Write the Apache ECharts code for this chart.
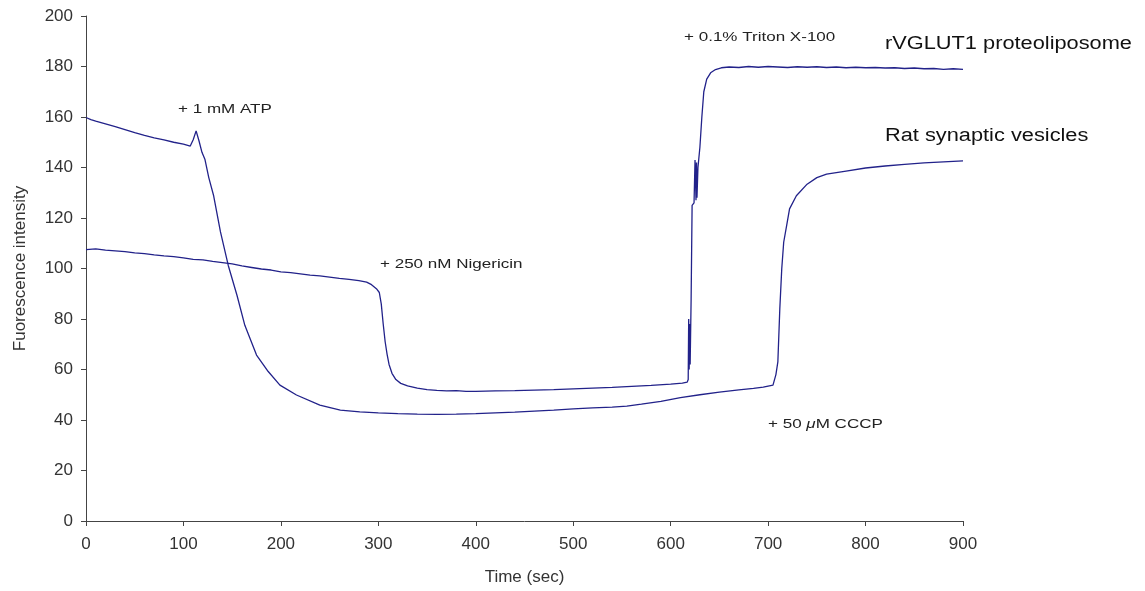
<!DOCTYPE html>
<html>
<head>
<meta charset="utf-8">
<script src="https://cdn.jsdelivr.net/npm/echarts@6/dist/echarts.min.js"></script>
<style>
html,body{margin:0;padding:0;background:#fff;}
#chart{width:1145px;height:591px;}
</style>
</head>
<body>
<div id="chart"></div>
<script>
// ---- Data ----
const xTicks = [0, 100, 200, 300, 400, 500, 600, 700, 800, 900];
const yTicks = [0, 20, 40, 60, 80, 100, 120, 140, 160, 180, 200];

// rVGLUT1 proteoliposome (Nigericin drop, Triton X-100 release)
const lipoTime = [0,10,20,30,40,50,60,70,80,90,100,110,120,130,140,150,160,170,180,190,200,210,220,230,240,250,260,270,280,288,293,298,301,303,305,307,309,311,314,318,323,330,340,350,360,370,380,390,400,420,440,460,480,500,520,540,560,580,600,612,617,618,618.5,619,619.5,620,621,622,624,625,626,626.5,627,628,630,632,634,637,641,646,652,660,670,680,690,700,710,720,730,740,750,760,770,780,790,800,810,820,830,840,850,860,870,880,890,900];
const lipoValue = [107.5,107.8,107.3,107.0,106.7,106.2,105.9,105.4,105.0,104.7,104.2,103.6,103.4,102.8,102.3,101.8,101.0,100.4,99.8,99.4,98.7,98.4,97.9,97.4,97.1,96.6,96.1,95.7,95.2,94.6,93.6,92.0,90.5,86,78,71,66,62,58.5,56,54.5,53.5,52.6,52.0,51.7,51.5,51.6,51.3,51.3,51.5,51.6,51.8,52.0,52.3,52.6,52.9,53.3,53.7,54.2,54.6,55.0,56,80,60,78,62,88,125,126,143,127,142,128,140,148,160,170,175,177.5,178.8,179.5,179.8,179.6,180.0,179.7,180.0,179.8,179.6,179.9,179.7,179.9,179.6,179.8,179.5,179.7,179.5,179.6,179.4,179.5,179.2,179.4,179.1,179.2,178.9,179.1,178.9];

// Rat synaptic vesicles (ATP acidification, CCCP release)
const vesTime = [0,5,10,20,30,40,50,60,70,80,90,100,107,110,113,116,119,122,126,131,138,146,155,163,175,187,199,216,240,261,281,300,320,340,360,380,400,420,440,460,480,500,520,540,555,570,590,610,630,650,670,685,695,705,708,710,712,714,716,719,722,729,740,750,760,780,800,820,840,860,880,900];
const vesValue = [159.8,159.0,158.4,157.3,156.2,155.0,153.8,152.7,151.7,150.9,150.0,149.3,148.5,151,154.5,150.5,146,143.3,136,128.8,114.5,101.2,89.3,77.5,65.7,59.2,53.8,49.9,45.9,43.9,43.2,42.8,42.5,42.3,42.2,42.3,42.5,42.8,43.1,43.5,43.9,44.4,44.8,45.1,45.5,46.3,47.4,48.9,50.0,51.0,51.9,52.5,53.0,53.8,58,63,84,99.9,110.4,117,123.6,128.8,133.4,136,137.4,138.6,139.8,140.6,141.2,141.8,142.2,142.6];

const seriesNames = ['rVGLUT1 proteoliposome', 'Rat synaptic vesicles'];
const xAxisTitle = 'Time (sec)';
const yAxisTitle = 'Fuorescence intensity';
const annotations = ['+ 1 mM ATP', '+ 250 nM Nigericin', '+ 0.1% Triton X-100', '+ 50 {i|\u03bc}M CCCP'];

// ---- Chart ----
const pair = (t, v) => t.map((x, i) => [x, v[i]]);
const FONT = '"Liberation Sans", Arial, sans-serif';
const lineColor = '#22228a';

function note(text, x, y, size, scale, color) {
  return {
    type: 'text', x: x, y: y, scaleX: scale, silent: true,
    style: {
      text: text, x: 0, y: 0, fill: color,
      font: size + 'px ' + FONT, verticalAlign: 'middle', align: 'left',
      rich: { i: { fontStyle: 'italic', fontSize: size, fontFamily: FONT, fill: color } }
    }
  };
}

const chart = echarts.init(document.getElementById('chart'), null, { renderer: 'canvas' });
chart.setOption({
  animation: false,
  backgroundColor: '#ffffff',
  grid: { left: 86, right: 182, top: 16, bottom: 68, containLabel: false },
  xAxis: {
    type: 'value', min: xTicks[0], max: xTicks[xTicks.length - 1], interval: 100,
    name: xAxisTitle, nameLocation: 'middle', nameGap: 48,
    nameTextStyle: { fontFamily: FONT, fontSize: 17, color: '#333' },
    axisLine: { onZero: false, lineStyle: { color: '#444', width: 1 } },
    axisTick: { show: true, length: 5, inside: false, lineStyle: { color: '#444' } },
    axisLabel: { fontFamily: FONT, fontSize: 17, color: '#333', margin: 15 },
    splitLine: { show: false }
  },
  yAxis: {
    type: 'value', min: yTicks[0], max: yTicks[yTicks.length - 1], interval: 20,
    name: yAxisTitle, nameLocation: 'middle', nameGap: 57, nameRotate: 90,
    nameTextStyle: { fontFamily: FONT, fontSize: 17, color: '#333' },
    axisLine: { show: true, lineStyle: { color: '#444', width: 1 } },
    axisTick: { show: true, length: 5, inside: false, lineStyle: { color: '#444' } },
    axisLabel: { fontFamily: FONT, fontSize: 17, color: '#333', margin: 13 },
    splitLine: { show: false }
  },
  series: [
    {
      name: seriesNames[0], type: 'line', data: pair(lipoTime, lipoValue),
      showSymbol: false, symbol: 'none', smooth: false,
      lineStyle: { color: lineColor, width: 1.3 }
    },
    {
      name: seriesNames[1], type: 'line', data: pair(vesTime, vesValue),
      showSymbol: false, symbol: 'none', smooth: false,
      lineStyle: { color: lineColor, width: 1.3 }
    }
  ],
  graphic: [
    note(annotations[0], 178, 109, 13, 1.31, '#222'),
    note(annotations[1], 380, 264, 13, 1.31, '#222'),
    note(annotations[2], 684, 37, 13, 1.31, '#222'),
    note(annotations[3], 768, 424, 13, 1.31, '#222'),
    note(seriesNames[0], 885, 44, 18, 1.21, '#111'),
    note(seriesNames[1], 885, 136, 18, 1.21, '#111')
  ]
});
</script>
</body>
</html>
